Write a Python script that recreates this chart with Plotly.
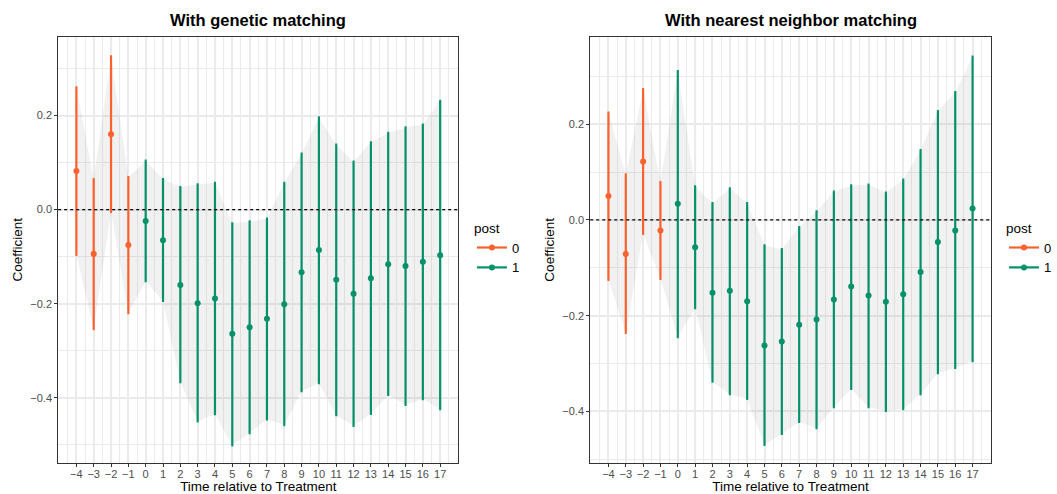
import plotly.graph_objects as go

# ---------------- data ----------------
time = list(range(-4, 18))
post = [0, 0, 0, 0] + [1] * 18

gen_coef = [0.082, -0.094, 0.160, -0.075, -0.024, -0.065, -0.160, -0.199, -0.189, -0.264, -0.250,
            -0.232, -0.201, -0.133, -0.086, -0.149, -0.179, -0.146, -0.116, -0.120, -0.111, -0.097]
gen_hi = [0.260, 0.065, 0.326, 0.069, 0.104, 0.065, 0.048, 0.054, 0.057, -0.029, -0.025,
          -0.019, 0.057, 0.119, 0.196, 0.138, 0.102, 0.143, 0.163, 0.175, 0.181, 0.231]
gen_lo = [-0.096, -0.254, -0.005, -0.220, -0.152, -0.194, -0.367, -0.450, -0.435, -0.501, -0.475,
          -0.446, -0.458, -0.386, -0.369, -0.437, -0.460, -0.434, -0.394, -0.415, -0.403, -0.424]

nn_coef = [0.050, -0.071, 0.122, -0.022, 0.034, -0.057, -0.152, -0.148, -0.170, -0.262, -0.254,
           -0.219, -0.208, -0.166, -0.139, -0.158, -0.171, -0.155, -0.109, -0.046, -0.022, 0.024]
nn_hi = [0.224, 0.095, 0.273, 0.079, 0.311, 0.070, 0.035, 0.066, 0.035, -0.053, -0.061,
         -0.015, 0.018, 0.059, 0.072, 0.074, 0.057, 0.084, 0.146, 0.227, 0.267, 0.341]
nn_lo = [-0.125, -0.236, -0.029, -0.123, -0.245, -0.184, -0.338, -0.364, -0.374, -0.470, -0.447,
         -0.422, -0.435, -0.391, -0.353, -0.391, -0.399, -0.395, -0.364, -0.320, -0.309, -0.295]

y_ticks = [-0.4, -0.2, 0.0, 0.2]
titles = ["With genetic matching", "With nearest neighbor matching"]
group_names = ["0", "1"]
colors = {0: "#F9622F", 1: "#06916A"}

# ---------------- layout geometry ----------------
W, H = 1057, 494
dom_x = [[58.7 / W, 462.3 / W], [595.3 / W, 999.3 / W]]
dom_y = [1 - 462.7 / H, 1 - 37 / H]
yranges = [[-0.538, 0.367], [-0.507, 0.382]]
xrange_ = [-5.05, 18.05]
FONT = "Liberation Sans, Arial"

fig = go.Figure()

panels = [(gen_coef, gen_lo, gen_hi), (nn_coef, nn_lo, nn_hi)]
for i, (coef, lo, hi) in enumerate(panels):
    xa = "x" if i == 0 else "x2"
    ya = "y" if i == 0 else "y2"
    # ribbon
    fig.add_trace(go.Scatter(
        x=time + time[::-1], y=hi + lo[::-1], fill="toself",
        fillcolor="rgba(0,0,0,0.055)", line=dict(width=0), mode="lines",
        hoverinfo="skip", showlegend=False, xaxis=xa, yaxis=ya))
    for g in (0, 1):
        idx = [k for k in range(len(time)) if post[k] == g]
        fig.add_trace(go.Scatter(
            x=[time[k] for k in idx], y=[coef[k] for k in idx], mode="markers",
            marker=dict(color=colors[g], size=6),
            error_y=dict(type="data", symmetric=False,
                         array=[hi[k] - coef[k] for k in idx],
                         arrayminus=[coef[k] - lo[k] for k in idx],
                         color=colors[g], thickness=2.2, width=1),
            showlegend=False, xaxis=xa, yaxis=ya))
    # legend entries
    for g in (0, 1):
        fig.add_trace(go.Scatter(
            x=[None], y=[None], mode="lines+markers", name=group_names[g],
            line=dict(color=colors[g], width=2.2), marker=dict(color=colors[g], size=6),
            legend="legend" if i == 0 else "legend2", xaxis=xa, yaxis=ya))
    # zero line
    fig.add_shape(type="line", xref=f"{xa} domain", yref=ya, x0=0, x1=1, y0=0, y1=0,
                  line=dict(color="black", width=1.2, dash="dot"))

axis_common = dict(
    showline=True, mirror=True, linecolor="#333333", linewidth=1,
    ticks="outside", ticklen=3, tickcolor="#333333", tickwidth=1,
    tickfont=dict(family=FONT, size=11, color="#4D4D4D"),
    gridcolor="#EBEBEB", gridwidth=1.6, zeroline=False, automargin=False,
)

for i in range(2):
    sx = "" if i == 0 else "2"
    fig.layout[f"xaxis{sx}"] = dict(
        axis_common, domain=dom_x[i], range=xrange_, tickmode="array", tickvals=time,
        ticktext=[str(t).replace("-", "\u2212") for t in time], ticklabelstandoff=-2,
        anchor="y" + sx,
        minor=dict(tickmode="array", tickvals=[t + 0.5 for t in time[:-1]] + [-4.5, 17.5],
                   showgrid=True, gridcolor="#EBEBEB", gridwidth=0.8, ticks=""),
        title=dict(text="Time relative to Treatment", standoff=0,
                   font=dict(family=FONT, size=13.5, color="black")))
    fig.layout[f"yaxis{sx}"] = dict(
        axis_common, domain=dom_y, range=yranges[i], tickmode="array", tickvals=y_ticks,
        ticktext=[f"{v:.1f}".replace("-", "\u2212") for v in y_ticks], anchor="x" + sx,
        minor=dict(tickmode="array", tickvals=[-0.5, -0.3, -0.1, 0.1, 0.3],
                   showgrid=True, gridcolor="#EBEBEB", gridwidth=0.8, ticks=""),
        title=dict(text="Coefficient", standoff=4,
                   font=dict(family=FONT, size=13.5, color="black")))

for i in range(2):
    fig.add_annotation(
        text=f"<b>{titles[i]}</b>", xref="paper", yref="paper",
        x=(dom_x[i][0] + dom_x[i][1]) / 2, y=1 - 20 / H, xanchor="center", yanchor="middle",
        showarrow=False, font=dict(family=FONT, size=16.5, color="black"))

legend_common = dict(
    title=dict(text="post", font=dict(family=FONT, size=13.5, color="black")),
    font=dict(family=FONT, size=13, color="black"),
    bgcolor="rgba(0,0,0,0)", xanchor="left", yanchor="top", itemwidth=30, tracegroupgap=0,
)
fig.update_layout(
    width=W, height=H, margin=dict(l=0, r=0, t=0, b=0),
    paper_bgcolor="white", plot_bgcolor="white",
    legend=dict(legend_common, x=476 / W, y=1 - 215 / H),
    legend2=dict(legend_common, x=1013 / W, y=1 - 215 / H),
)

fig.write_html("out.html")
